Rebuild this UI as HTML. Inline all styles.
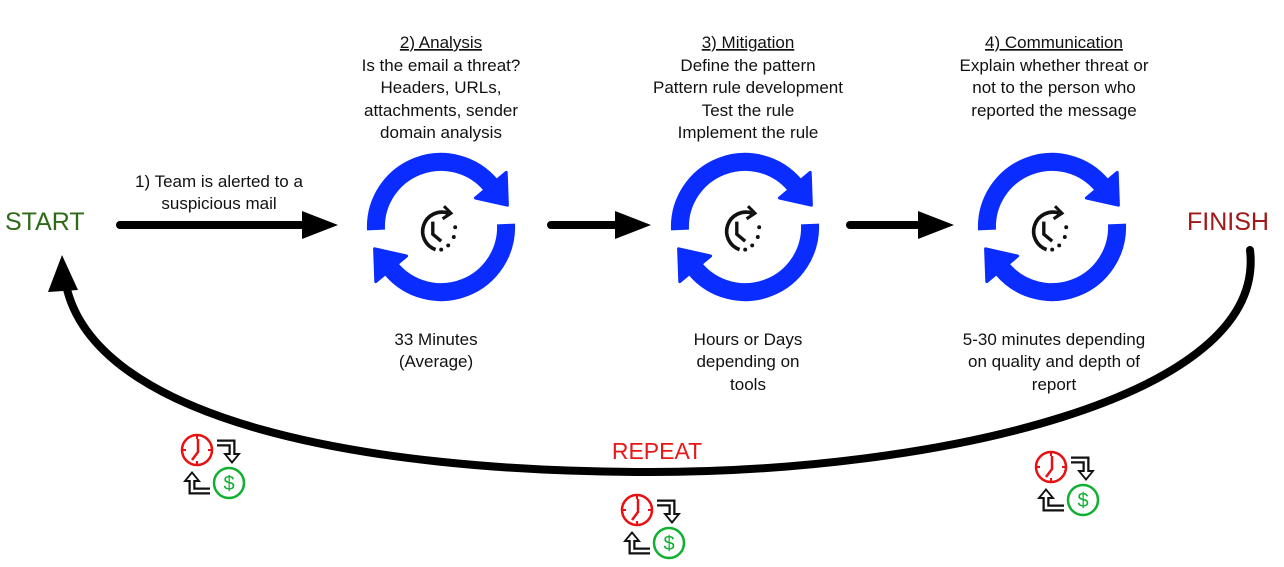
<!DOCTYPE html>
<html><head><meta charset="utf-8"><style>
html,body{margin:0;padding:0;background:#fff}
svg{display:block}
text{font-family:"Liberation Sans",sans-serif;font-size:17px;fill:#111}
</style></head><body>
<svg width="1284" height="567" viewBox="0 0 1284 567" xmlns="http://www.w3.org/2000/svg">
<defs>
<g id="cyc">
 <path d="M-65,3 A65,65 0 0 1 49.8,-41.8" fill="none" stroke="#0a2cff" stroke-width="18"/>
 <polygon points="65.2,-54.6 34.4,-29 66.4,-21.8" fill="#0a2cff" stroke="#0a2cff" stroke-width="3" stroke-linejoin="round"/>
 <path d="M65,-3 A65,65 0 0 1 -49.8,41.8" fill="none" stroke="#0a2cff" stroke-width="18"/>
 <polygon points="-65.2,54.6 -34.4,29 -66.4,21.8" fill="#0a2cff" stroke="#0a2cff" stroke-width="3" stroke-linejoin="round"/>
 <g transform="translate(-4,3) scale(1.4)">
 <path d="M8,-12 A13,13 0 1 0 -1,14" fill="none" stroke="#111" stroke-width="2.6"/>
 <polyline points="-3,-6 -3,3 3,8" fill="none" stroke="#111" stroke-width="2.4"/>
 <polyline points="5,-17 10,-12 4,-8" fill="none" stroke="#111" stroke-width="2.2"/>
 <circle cx="13" cy="-2" r="1.4" fill="#111"/><circle cx="12" cy="5" r="1.4" fill="#111"/>
 <circle cx="8" cy="11" r="1.4" fill="#111"/><circle cx="3" cy="14" r="1.4" fill="#111"/>
 </g>
</g>
<g id="money">
 <circle cx="16" cy="15" r="15" fill="none" stroke="#e81010" stroke-width="2.5"/>
 <polyline points="17,4 17,17 11,25" fill="none" stroke="#e81010" stroke-width="2.5"/>
 <line x1="16" y1="1" x2="16" y2="4" stroke="#e81010" stroke-width="2"/>
 <line x1="16" y1="26" x2="16" y2="29" stroke="#e81010" stroke-width="2"/>
 <line x1="2" y1="15" x2="5" y2="15" stroke="#e81010" stroke-width="2"/>
 <line x1="27" y1="15" x2="30" y2="15" stroke="#e81010" stroke-width="2"/>
 <circle cx="48" cy="48" r="15" fill="none" stroke="#10b030" stroke-width="2.5"/>
 <text x="48" y="55" text-anchor="middle" style="font-size:20px;fill:#10b030">$</text>
 <path d="M36,8 H51 V20" fill="none" stroke="#111" stroke-width="7"/>
 <polygon points="42,18 60,18 51,29" fill="#111"/>
 <path d="M36,8 H51 V22" fill="none" stroke="#fff" stroke-width="2.5"/>
 <polygon points="46,20 56,20 51,26" fill="#fff"/>
 <path d="M29,56 H11 V45" fill="none" stroke="#111" stroke-width="7"/>
 <polygon points="2,47 20,47 11,36" fill="#111"/>
 <path d="M30,56 H11 V44" fill="none" stroke="#fff" stroke-width="2.5"/>
 <polygon points="6,45 16,45 11,39" fill="#fff"/>
</g>
</defs>

<text x="5" y="230" style="font-size:25px;fill:#2e6b17">START</text>
<text x="1187" y="230" style="font-size:25px;fill:#a01818">FINISH</text>
<text x="657" y="459" text-anchor="middle" style="font-size:23px;fill:#e81818">REPEAT</text>

<text x="219" y="187" text-anchor="middle">1) Team is alerted to a</text>
<text x="219" y="209" text-anchor="middle">suspicious mail</text>

<line x1="120" y1="225" x2="305" y2="225" stroke="#000" stroke-width="8" stroke-linecap="round"/>
<polygon points="302,211 338,225 302,239" fill="#000"/>
<line x1="551" y1="225" x2="620" y2="225" stroke="#000" stroke-width="8" stroke-linecap="round"/>
<polygon points="615,211 651,225 615,239" fill="#000"/>
<line x1="850" y1="225" x2="922" y2="225" stroke="#000" stroke-width="8" stroke-linecap="round"/>
<polygon points="918,211 954,225 918,239" fill="#000"/>

<use href="#cyc" x="441" y="227"/>
<use href="#cyc" x="745" y="227"/>
<use href="#cyc" x="1052" y="227"/>

<g text-anchor="middle">
<text x="441" y="48" text-decoration="underline">2) Analysis</text>
<text x="441" y="71">Is  the email a threat?</text>
<text x="441" y="93">Headers, URLs,</text>
<text x="441" y="116">attachments, sender</text>
<text x="441" y="138">domain analysis</text>
<text x="748" y="48" text-decoration="underline">3) Mitigation</text>
<text x="748" y="71">Define the pattern</text>
<text x="748" y="93">Pattern rule development</text>
<text x="748" y="116">Test the rule</text>
<text x="748" y="138">Implement the rule</text>
<text x="1054" y="48" text-decoration="underline">4) Communication</text>
<text x="1054" y="71">Explain whether threat or</text>
<text x="1054" y="93">not to the person who</text>
<text x="1054" y="116">reported the message</text>
<text x="436" y="345">33 Minutes</text>
<text x="436" y="367">(Average)</text>
<text x="748" y="345">Hours or Days</text>
<text x="748" y="367">depending on</text>
<text x="748" y="390">tools</text>
<text x="1054" y="345">5-30 minutes depending</text>
<text x="1054" y="367">on quality and depth of</text>
<text x="1054" y="390">report</text>
</g>

<path d="M1250,250 C1268,400 930,472 650,472 C360,472 95,420 66,285" fill="none" stroke="#000" stroke-width="8" stroke-linecap="round"/>
<polygon points="48,292 62,255 78,290" fill="#000"/>

<use href="#money" x="181" y="435"/>
<use href="#money" x="621" y="495"/>
<use href="#money" x="1035" y="452"/>
</svg>
</body></html>
